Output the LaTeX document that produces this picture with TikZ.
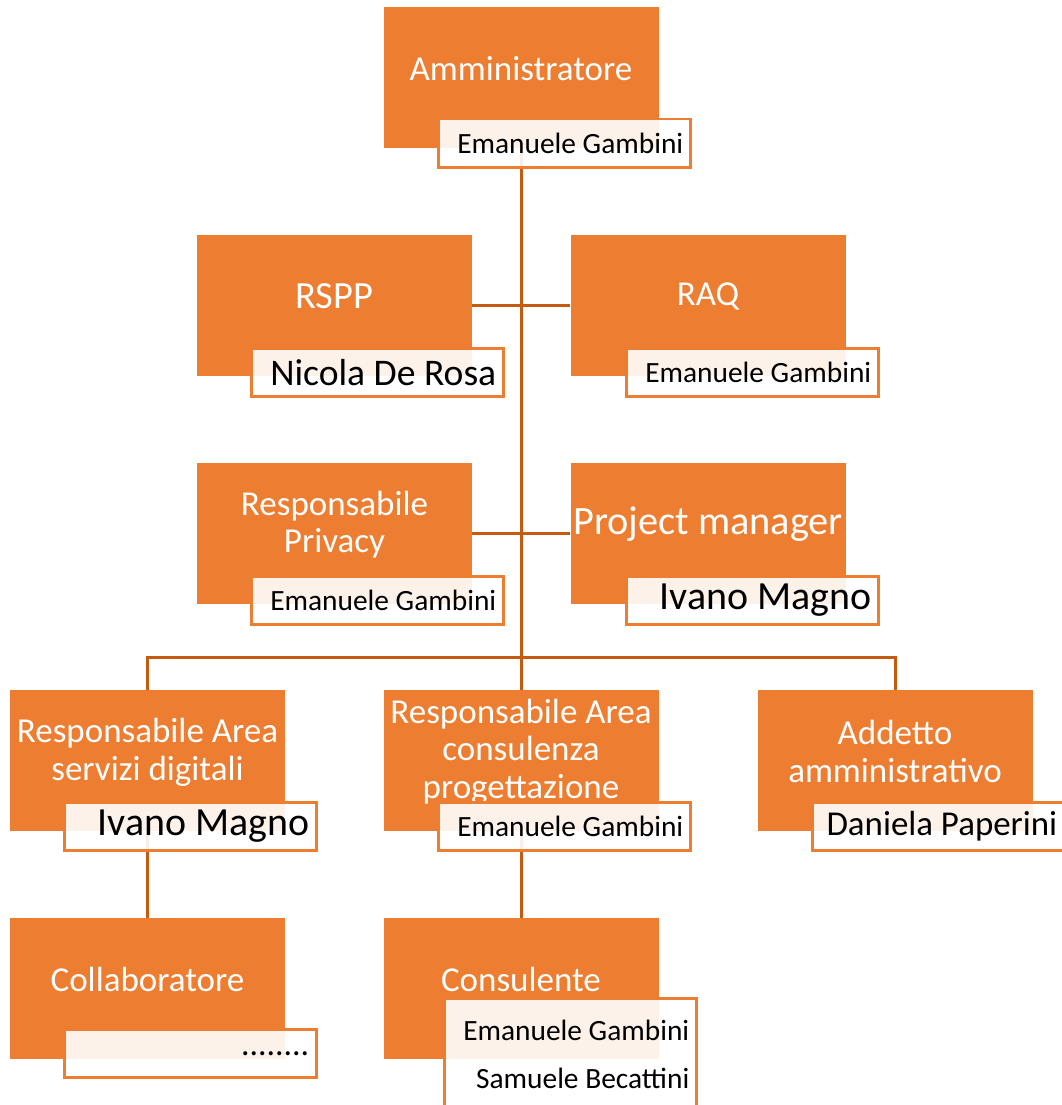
\documentclass[tikz,border=0pt]{standalone}
\usepackage{fontspec}
\setmainfont{Carlito}
\usetikzlibrary{backgrounds}
\definecolor{boxorange}{RGB}{237,125,49}
\definecolor{lineorange}{RGB}{197,90,17}

\begin{document}
\begin{tikzpicture}[
            x=1pt, y=-1pt,
            role node/.style={rectangle,fill=boxorange,minimum width=275pt,minimum height=141pt,inner sep=0pt},
            title node/.style={text=white,font=\fontsize{35}{37.5}\selectfont,align=center,inner sep=0pt},
            name node/.style={rectangle,draw=boxorange,line width=2.5pt,fill=white,fill opacity=0.9,text opacity=1,
                anchor=north west,minimum height=48pt,text width=238pt,inner xsep=7pt,inner ysep=0pt,align=flush right,
                font=\fontsize{29.4}{33}\selectfont},
            big name/.style={font=\fontsize{39.9}{44}\selectfont},
            link/.style={draw=lineorange,line width=3pt},
        ]
            \clip (0,0) rectangle (1062,1105);

            % role boxes
            \node[role node] (amm) at (521,77.5) {};
            \node[role node] (rspp) at (334.5,305) {};
            \node[role node] (raq) at (708,305) {};
            \node[role node] (priv) at (334.5,533.5) {};
            \node[role node] (pm) at (708,533.5) {};
            \node[role node] (dig) at (147.5,760.5) {};
            \node[role node] (cons) at (521,760.5) {};
            \node[role node] (add) at (895,760.5) {};
            \node[role node] (coll) at (147.5,988.5) {};
            \node[role node] (consul) at (521,988.5) {};
            \coordinate (bus) at (521,657);

            % titles
            \node[title node] (amm-t) at ([yshift=9pt]amm.center) {Amministratore};
            \node[title node,font=\fontsize{38.5}{42}\selectfont] (rspp-t) at ([yshift=9pt]rspp.center) {RSPP};
            \node[title node] (raq-t) at ([yshift=9pt]raq.center) {RAQ};
            \node[title node] (priv-t) at ([yshift=9pt]priv.center) {Responsabile\\Privacy};
            \node[title node,font=\fontsize{40.3}{44}\selectfont] (pm-t) at ([yshift=9pt]pm.center) {Project manager};
            \node[title node] (dig-t) at ([yshift=8pt]dig.center) {Responsabile Area\\servizi digitali};
            \node[title node] (cons-t) at ([yshift=9pt]cons.center) {Responsabile Area\\consulenza\\progettazione};
            \node[title node] (add-t) at ([yshift=9pt]add.center) {Addetto\\amministrativo};
            \node[title node] (coll-t) at ([yshift=9pt]coll.center) {Collaboratore};
            \node[title node] (consul-t) at ([yshift=9pt]consul.center) {Consulente};

            % names
            \node[name node] (amm-n) at (437,118) {Emanuele Gambini};
            \node[name node,font=\fontsize{37.6}{42}\selectfont] (rspp-n) at (250,347) {Nicola De Rosa};
            \node[name node] (raq-n) at (625,347) {Emanuele Gambini};
            \node[name node] (priv-n) at (250,575) {Emanuele Gambini};
            \node[name node,big name] (pm-n) at (625,575) {Ivano Magno};
            \node[name node,big name] (dig-n) at (63,801) {Ivano Magno};
            \node[name node] (cons-n) at (437,801) {Emanuele Gambini};
            \node[name node,font=\fontsize{34.9}{40}\selectfont] (add-n) at (811,801) {Daniela Paperini};
            \node[name node,font=\fontsize{33.7}{36}\selectfont] (coll-n) at (63,1028) {........};
            \node[name node,minimum height=112pt,font=\fontsize{29.4}{48}\selectfont] (consul-n) at (443,997) {Emanuele Gambini\\Samuele Becattini};

            \begin{pgfonlayer}{background}
            \path[link] (amm) -- (cons);
            \path[link] (rspp) -- (raq);
            \path[link] (priv) -- (pm);
            \path[link] (dig.north) |- (bus) -| (add.north);
            \path[link] (dig) -- (coll);
            \path[link] (cons) -- (consul);
            \end{pgfonlayer}
        \end{tikzpicture}
\end{document}
